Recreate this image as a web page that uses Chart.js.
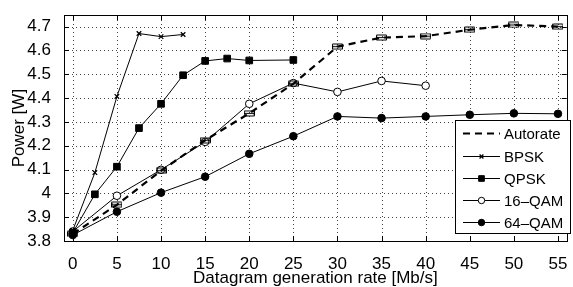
<!DOCTYPE html>
<html><head><meta charset="utf-8">
<script src="https://cdn.jsdelivr.net/npm/chart.js@4"></script>
<style>html,body{margin:0;padding:0;background:#fff}#w{width:573px;height:287px;position:relative}</style>
</head><body><div id="w"><canvas id="c"></canvas></div>
<script>
const xTicks=[0,5,10,15,20,25,30,35,40,45,50,55];
const yTicks=[3.8,3.9,4.0,4.1,4.2,4.3,4.4,4.5,4.6,4.7];
const xAutorate=[0,5,10,15,20,25,30,35,40,45,50,55];
const yAutorate=[3.83,3.952,4.095,4.223,4.336,4.46,4.616,4.654,4.66,4.687,4.707,4.70];
const xBPSK=[0,2.5,5,7.5,10,12.5];
const yBPSK=[3.845,4.087,4.407,4.671,4.658,4.667];
const xQPSK=[0,2.5,5,7.5,10,12.5,15,17.5,20,25];
const yQPSK=[3.835,3.996,4.112,4.274,4.376,4.496,4.556,4.566,4.558,4.56];
const x16QAM=[0,5,10,15,20,25,30,35,40];
const y16QAM=[3.84,3.99,4.099,4.216,4.376,4.463,4.426,4.472,4.452];
const x64QAM=[0,5,10,15,20,25,30,35,40,45,50,55];
const y64QAM=[3.825,3.923,4.003,4.07,4.166,4.24,4.323,4.316,4.323,4.33,4.336,4.334];
const seriesNames=['Autorate','BPSK','QPSK','16\u2013QAM','64\u2013QAM'];

const FONT='"Liberation Sans", Arial, Helvetica, sans-serif';
function pts(xs,ys){return xs.map((x,i)=>({x:x,y:ys[i]}));}

// error-bar like marker for Autorate
const eb=document.createElement('canvas');eb.width=11;eb.height=7;
(function(){const g=eb.getContext('2d');g.strokeStyle='#000';g.lineWidth=1.2;
g.beginPath();g.moveTo(0.5,1);g.lineTo(10.5,1);g.moveTo(0.5,6);g.lineTo(10.5,6);
g.moveTo(0.5,1);g.lineTo(0.5,6);g.moveTo(10.5,1);g.lineTo(10.5,6);
g.moveTo(1,3.5);g.lineTo(10,3.5);g.stroke();})();

const datasets=[
 {label:seriesNames[0],data:pts(xAutorate,yAutorate),borderColor:'#000',borderWidth:2.2,borderDash:[7,5],pointStyle:eb,pointRadius:4,backgroundColor:'#000'},
 {label:seriesNames[1],data:pts(xBPSK,yBPSK),borderColor:'#000',borderWidth:1,pointStyle:'crossRot',pointRadius:3.2,pointBorderWidth:1.3,backgroundColor:'#000'},
 {label:seriesNames[2],data:pts(xQPSK,yQPSK),borderColor:'#000',borderWidth:1,pointStyle:'rect',pointRadius:4.7,pointBorderWidth:1,backgroundColor:'#000',pointBackgroundColor:'#000'},
 {label:seriesNames[3],data:pts(x16QAM,y16QAM),borderColor:'#000',borderWidth:1,pointStyle:'circle',pointRadius:3.8,pointBorderWidth:1,backgroundColor:'#fff',pointBackgroundColor:'#fff'},
 {label:seriesNames[4],data:pts(x64QAM,y64QAM),borderColor:'#000',borderWidth:1,pointStyle:'circle',pointRadius:3.8,pointBorderWidth:1,backgroundColor:'#000',pointBackgroundColor:'#000'}
];

const frame={id:'frame',
 beforeDatasetsDraw(chart){
  const {ctx,chartArea:a,scales:{x,y}}=chart;
  ctx.save();ctx.strokeStyle='#444';ctx.lineWidth=1;ctx.setLineDash([1,3]);
  ctx.beginPath();
  xTicks.forEach(v=>{const p=Math.round(x.getPixelForValue(v))+0.5;ctx.moveTo(p,a.bottom);ctx.lineTo(p,a.top);});
  yTicks.forEach(v=>{const p=Math.round(y.getPixelForValue(v))+0.5;ctx.moveTo(a.left,p);ctx.lineTo(a.right,p);});
  ctx.stroke();ctx.restore();
 },
 afterDatasetsDraw(chart){
  const {ctx,chartArea:a,scales:{x,y}}=chart;
  ctx.save();ctx.strokeStyle='#000';ctx.lineWidth=1;
  ctx.beginPath();
  xTicks.forEach(v=>{const p=Math.round(x.getPixelForValue(v))+0.5;
    ctx.moveTo(p,a.bottom);ctx.lineTo(p,a.bottom-5);ctx.moveTo(p,a.top);ctx.lineTo(p,a.top+5);});
  yTicks.forEach(v=>{const p=Math.round(y.getPixelForValue(v))+0.5;
    ctx.moveTo(a.left,p);ctx.lineTo(a.left+5,p);ctx.moveTo(a.right,p);ctx.lineTo(a.right-5,p);});
  ctx.stroke();
  ctx.strokeRect(Math.round(a.left)+0.5,Math.round(a.top)+0.5,Math.round(a.right-a.left),Math.round(a.bottom-a.top));
  // legend
  const L=455.5,T=120.5,W=115,H=113;
  ctx.fillStyle='#fff';ctx.fillRect(L,T,W,H);ctx.strokeRect(L,T,W,H);
  const rows=[133,156,178,200,222];
  ctx.font='15px '+FONT;ctx.textBaseline='middle';ctx.textAlign='left';
  chart.data.datasets.forEach((d,i)=>{
    const yy=rows[i]+0.5;
    ctx.save();ctx.strokeStyle='#000';ctx.lineWidth=d.borderWidth;ctx.setLineDash(d.borderDash||[]);
    ctx.beginPath();ctx.moveTo(463,yy);ctx.lineTo(500,yy);ctx.stroke();ctx.restore();
    if(i>0){
      ctx.save();ctx.fillStyle=d.pointBackgroundColor||'#000';ctx.strokeStyle='#000';ctx.lineWidth=d.pointBorderWidth;
      Chart.helpers.drawPoint(ctx,{pointStyle:d.pointStyle,radius:d.pointRadius*0.85,borderWidth:d.pointBorderWidth},481.5,yy);
      ctx.restore();}
    ctx.fillStyle='#000';ctx.fillText(d.label,504,yy+1);
  });
  ctx.restore();
 }};

new Chart(document.getElementById('c'),{
 type:'line',
 data:{datasets:datasets},
 options:{
  responsive:true,maintainAspectRatio:false,animation:false,
  layout:{padding:{left:0,right:1,top:4,bottom:0}},
  plugins:{legend:{display:false},tooltip:{enabled:false}},
  elements:{line:{tension:0,fill:false},point:{borderColor:'#000'}},
  scales:{
   x:{type:'linear',min:-1,max:56,
     afterBuildTicks:s=>{s.ticks=xTicks.map(v=>({value:v}));},
     afterFit:s=>{s.height=46;},
     grid:{display:false},
     border:{display:false},
     ticks:{color:'#000',font:{family:FONT,size:17},padding:5,maxRotation:0,autoSkip:false,callback:v=>String(v)},
     title:{display:true,text:'Datagram generation rate [Mb/s]',color:'#000',font:{family:FONT,size:17,lineHeight:1},padding:{top:0,bottom:0}}
   },
   y:{type:'linear',min:3.8,max:4.748,
     afterBuildTicks:s=>{s.ticks=yTicks.map(v=>({value:v}));},
     afterFit:s=>{s.width=64;},
     grid:{display:false},
     border:{display:false},
     ticks:{color:'#000',font:{family:FONT,size:17},padding:5,autoSkip:false,callback:v=>String(Number(v.toFixed(1)))},
     title:{display:true,text:'Power [W]',color:'#000',font:{family:FONT,size:17,lineHeight:1},padding:{top:11,bottom:0}}
   }
  }
 },
 plugins:[frame]
});
</script>
</body></html>
